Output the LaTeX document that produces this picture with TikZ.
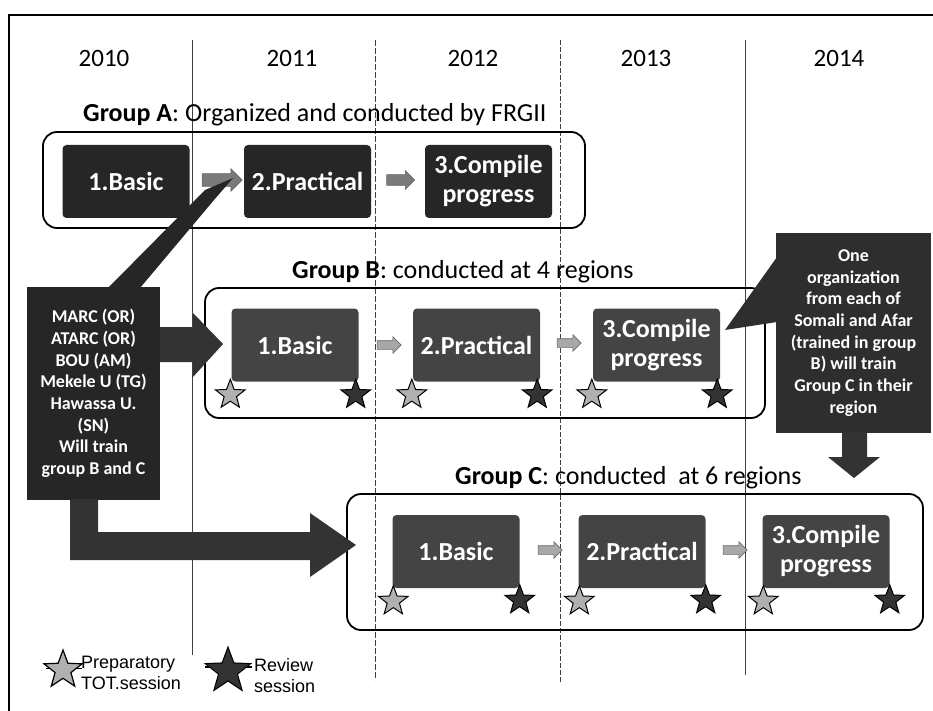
\documentclass[tikz,border=0pt]{standalone}
\usepackage{fontspec}
\setmainfont{Carlito}
\newfontfamily\legendfont{Liberation Sans}
\usetikzlibrary{shapes.geometric,shapes.arrows,calc}
\definecolor{boxdark}{HTML}{262626}
\definecolor{boxmid}{HTML}{444444}
\definecolor{calldark}{HTML}{2E2E2E}
\definecolor{arrowdark}{HTML}{333333}
\definecolor{smallarrow}{HTML}{A8A8A8}
\definecolor{smallarrowA}{HTML}{7A7A7A}
\definecolor{prepfill}{HTML}{B0B0B0}
\begin{document}
\begin{tikzpicture}[x=1pt,y=-1pt,
  year/.style={font=\fontsize{25}{28}\selectfont,inner sep=0},
  gtitle/.style={anchor=west,font=\fontsize{26}{30}\selectfont,inner sep=0},
  group/.style={draw=black,line width=1.8pt,rounded corners=14pt},
  boxA/.style={fill=boxdark,rounded corners=4pt,text=white,font=\bfseries\fontsize{26}{29}\selectfont,align=center,minimum width=127pt,minimum height=73pt,inner sep=0},
  boxB/.style={boxA,fill=boxmid},
  divider/.style={draw=black!75,line width=0.9pt},
  smallarr/.style={single arrow,fill=smallarrow,draw=black!60,line width=0.6pt,inner xsep=0pt,inner ysep=4pt,single arrow head extend=4pt,minimum height=24pt},
  prep/.style={star,star points=5,star point ratio=2.4,minimum size=31pt,fill=prepfill,draw=black,line width=1pt,inner sep=0},
  review/.style={prep,fill=arrowdark},
  darktext/.style={text=white,font=\bfseries\fontsize{18}{21.7}\selectfont,align=center,inner sep=0},
  legendtext/.style={anchor=west,align=left,inner sep=0,font=\legendfont\fontsize{18}{21}\selectfont}
]
\useasboundingbox (0,0) rectangle (933,711);
% frame
\draw[line width=2pt] (933,15) -- (9,15) -- (9,711);
% dividers
\draw[divider] (192,40) -- (192,655);
\draw[divider,dash pattern=on 6pt off 2pt] (375,40) -- (375,680);
\draw[divider,dash pattern=on 5pt off 2pt] (560,40) -- (560,682);
\draw[divider] (745,40) -- (745,675);
% years
\node[year] (y0) at (104,58) {2010};
\node[year] (y1) at (292,58) {2011};
\node[year] (y2) at (473,58) {2012};
\node[year] (y3) at (646,58) {2013};
\node[year] (y4) at (839,58) {2014};

% Group A
\node[gtitle] (ta) at (83,115) {\textbf{Group A}: Organized and conducted by FRGII};
\draw[group] (43,132) rectangle (585,228);
\node[boxA] (a1) at (126,181.5) {1.Basic};
\node[boxA] (a2) at (307.5,181.5) {2.Practical};
\node[boxA] (a3) at (488.5,181.5) {3.Compile\\progress};
\node[smallarr,fill=smallarrowA,minimum height=40pt,inner ysep=6pt,single arrow head extend=5pt] (sa1) at (219,180) {};
\node[smallarr,fill=smallarrowA,minimum height=28pt,inner ysep=5pt] (sa2) at (398,180) {};

% Group B
\node[gtitle] (tb) at (292,272) {\textbf{Group B}: conducted at 4 regions};
\draw[group] (205,288) rectangle (765,418);
\node[boxB] (b1) at (295,345) {1.Basic};
\node[boxB] (b2) at (476.5,345) {2.Practical};
\node[boxB] (b3) at (656.5,345) {3.Compile\\progress};
\node[smallarr] (sb1) at (387,345) {};
\node[smallarr] (sb2) at (567,343) {};
\foreach \b in {b1,b2,b3}{
  \node[prep] at ($(\b.south west)+(-1,13)$) {};
  \node[review] at ($(\b.south east)+(-3,13)$) {};
}

% Group C
\node[gtitle] (tc) at (455,478) {\textbf{Group C}: conducted\ \ at 6 regions};
\draw[group] (347,494) rectangle (923,630);
\node[boxB] (c1) at (456,551.5) {1.Basic};
\node[boxB] (c2) at (642,551.5) {2.Practical};
\node[boxB] (c3) at (826,551.5) {3.Compile\\progress};
\node[smallarr] (sc1) at (548,550) {};
\node[smallarr] (sc2) at (733,550) {};
\foreach \c in {c1,c2,c3}{
  \node[prep] at ($(\c.south west)+(1,13)$) {};
  \node[review] at ($(\c.south east)+(0,12)$) {};
}

% MARC callout
\node[fill=boxdark,minimum width=133pt,minimum height=213pt,inner sep=0] (marc) at (93.5,393.5) {};
\node[darktext] (marct) at (marc.center) {MARC (OR)\\ATARC (OR)\\BOU (AM)\\Mekele U (TG)\\Hawassa U.\\(SN)\\Will train\\group B and C};
\fill[boxdark] (108,288) -- (205,190) -- (233,178) -- (214,200) -- (140,288) -- cycle;

% arrow MARC -> group B
\fill[arrowdark] (marc.east |- 0,327) -- (193,327) -- (193,313) -- (223,344) -- (193,377) -- (193,362) -- (marc.east |- 0,362) -- cycle;
% L arrow MARC -> group C
\fill[arrowdark] (70,499) -- (98,499) -- (98,532) -- (310,532) -- (310,513) -- (356,545) -- (310,577) -- (310,560) -- (70,560) -- cycle;

% right callout
\node[fill=calldark,minimum width=155pt,minimum height=200pt,inner sep=0] (org) at (853.5,333) {};
\node[darktext] (orgt) at (org.center) {One\\organization\\from each of\\Somali and Afar\\(trained in group\\B) will train\\Group C in their\\region};
\fill[calldark] (777,257) -- (725,330) -- (777,322) -- cycle;
% down arrow
\fill[arrowdark] (842,432) -- (867,432) -- (867,457) -- (880,457) -- (854,478) -- (828,457) -- (842,457) -- cycle;

% legend
\draw[line width=1pt] (46,668) -- (82,668);
\node[prep,minimum size=40pt,line width=1.2pt] (lp) at (63,670) {};
\node[legendtext] (lpt) at (81,673) {Preparatory\\TOT.session};
\draw[line width=1.2pt] (205,667) -- (252,667);
\node[review,minimum size=48pt] (lr) at (228,671) {};
\node[legendtext] (lrt) at (254,676) {Review\\session};
\end{tikzpicture}
\end{document}
